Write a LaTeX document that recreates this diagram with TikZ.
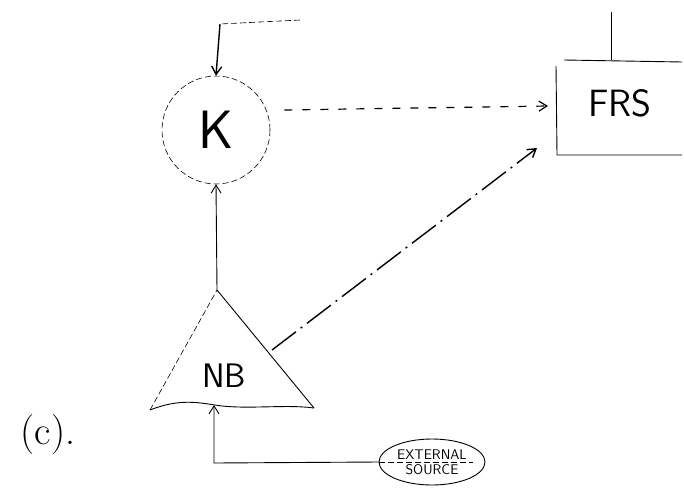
\documentclass[tikz,border=0pt]{standalone}
\usetikzlibrary{arrows.meta,shapes.geometric}
\begin{document}
\begin{tikzpicture}[x=1pt,y=-1pt,
  pen/.style={line width=0.9pt,black},
  faint/.style={line width=0.6pt,black,dash pattern=on 6pt off 3pt},
  tip/.style={-{Straight Barb[length=8pt,width=10pt]}},
  bigfont/.style={font=\sffamily\fontsize{54}{54}\selectfont},
  midfont/.style={font=\sffamily\fontsize{38}{38}\selectfont},
  smallfont/.style={font=\sffamily\fontsize{14}{14}\selectfont}]
\useasboundingbox (0,0) rectangle (684,495);

% K: dashed circle
\node[draw,faint,ellipse,minimum width=108pt,minimum height=108pt,inner sep=0pt,bigfont] (K) at (216,130) {K};

% FRS: box open on the right
\coordinate (frsTL) at (556,60);
\coordinate (frsBL) at (557,155);
\draw[pen] (frsTL) ++(8,0) -- (682,62);
\draw[pen] (frsTL) ++(0,6) -- (frsBL) -- (682,155);
\node[midfont] (FRS) at (620,103) {FRS};
\coordinate (frsIn) at (548,106);
\coordinate (frsIn2) at (537,148);
\coordinate (frsTop) at (611,60);
\coordinate (frsTopEnd) at (611,12);
\draw[pen] (frsTopEnd) -- (frsTop);

% NB: triangle with a wavy base
\coordinate (apex) at (217,290);
\coordinate (nbL) at (150,410);
\coordinate (nbR) at (314,408);
\draw[pen] (apex) -- (nbR);
\draw[faint] (nbL) -- (apex);
\draw[pen] (nbL) .. controls (180,398) and (200,403) .. (215,405)
  .. controls (245,410) and (285,404) .. (nbR);
\node[font=\sffamily\fontsize{34}{34}\selectfont] (NB) at (224,376) {NB};
\coordinate (nbBase) at (214,405);
\coordinate (nbEdge) at (272,350);

% external source
\node[draw,pen,ellipse,minimum width=106pt,minimum height=46pt] (ES) at (432,462) {};
\node[smallfont,anchor=south,inner sep=0pt] (ext) at ([yshift=2.5pt]ES.center) {EXTERNAL};
\node[smallfont,anchor=north,inner sep=0pt] (src) at ([yshift=-2.5pt]ES.center) {SOURCE};
\coordinate (corner) at (214,463);
\coordinate (esEnd) at (473,462);

% connectors
\draw[pen,tip] (ES.west) -- (corner) -- (nbBase);
\draw[faint] (ES.west) -- (esEnd);
\draw[pen,tip] (apex) -- (K.south);
\coordinate (kOut) at ([xshift=14pt,yshift=20pt]K.east);
\draw[line width=1.2pt,dash pattern=on 8pt off 10pt,tip] (kOut) -- (frsIn);
\draw[line width=1.4pt,dash pattern=on 30pt off 6pt on 2pt off 6pt,tip] (nbEdge) -- (frsIn2);

% feedback into K from above
\coordinate (fbStart) at (300,20);
\coordinate (fbCorner) at (220,24);
\draw[faint] (fbStart) -- (fbCorner);
\draw[line width=1.4pt,tip] (fbCorner) -- (K.north);

% figure tag
\node[font=\fontsize{40}{40}\selectfont] (tag) at (48,435) {(c).};
\end{tikzpicture}
\end{document}
